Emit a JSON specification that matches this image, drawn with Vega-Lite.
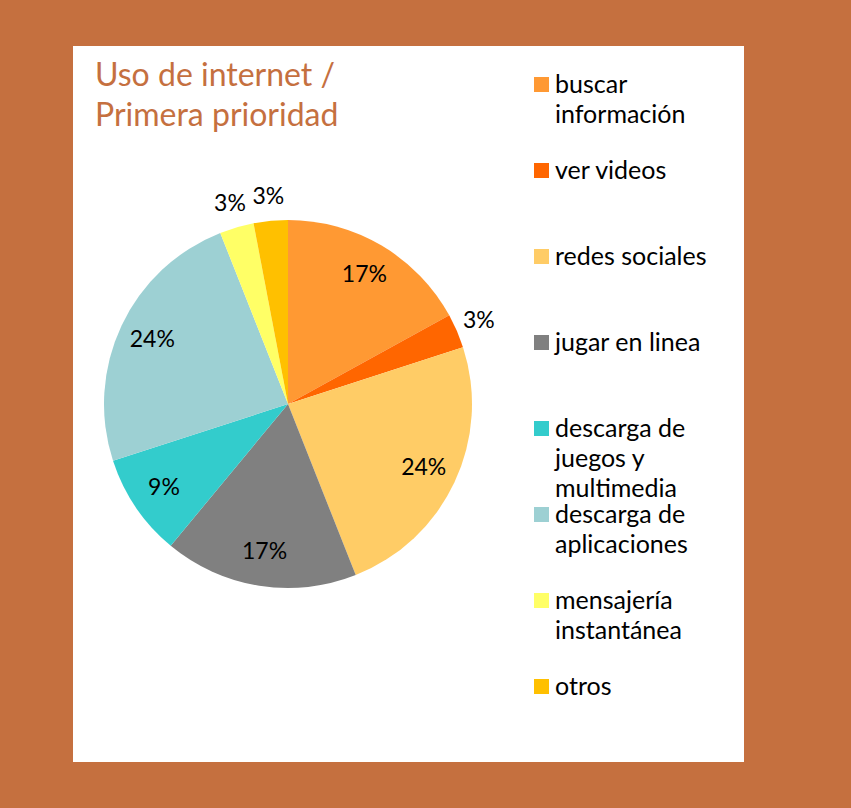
{
  "$schema": "https://vega.github.io/schema/vega-lite/v6.json",
  "background": "#C5703F",
  "padding": {"left": 73, "top": 46, "right": 107, "bottom": 46},
  "config": {
    "style": {"guide-label": {"lineHeight": 30.1}}
  },
  "title": {
    "text": ["Uso de internet /", "Primera prioridad"],
    "anchor": "start",
    "font": "Lato",
    "fontSize": 32,
    "fontWeight": "normal",
    "color": "#C5703F",
    "lineHeight": 40,
    "baseline": "top",
    "offset": 0,
    "dx": 22,
    "dy": 87
  },
  "data": {
    "values": [
      {"orden": 1, "categoria": "buscar información", "valor": 0.17},
      {"orden": 2, "categoria": "ver videos", "valor": 0.03},
      {"orden": 3, "categoria": "redes sociales", "valor": 0.24},
      {"orden": 4, "categoria": "jugar en linea", "valor": 0.17},
      {"orden": 5, "categoria": "descarga de juegos y multimedia", "valor": 0.09},
      {"orden": 6, "categoria": "descarga de aplicaciones", "valor": 0.24},
      {"orden": 7, "categoria": "mensajería instantánea", "valor": 0.03},
      {"orden": 8, "categoria": "otros", "valor": 0.03}
    ]
  },
  "spacing": 0,
  "hconcat": [
    {
      "width": 430,
      "height": 716,
      "view": {"fill": "white", "stroke": null},
      "layer": [
        {
          "mark": {"type": "arc", "outerRadius": 184},
          "encoding": {
            "theta": {"field": "valor", "type": "quantitative", "stack": true},
            "order": {"field": "orden", "type": "quantitative"},
            "color": {
              "field": "categoria",
              "type": "nominal",
              "scale": {
                "domain": ["buscar información", "ver videos", "redes sociales", "jugar en linea", "descarga de juegos y multimedia", "descarga de aplicaciones", "mensajería instantánea", "otros"],
                "range": ["#FF9933", "#FF6600", "#FFCC66", "#808080", "#33CCCC", "#9DD0D3", "#FFFF66", "#FFC000"]
              },
              "legend": {
                "orient": "none",
                "legendX": 456,
                "legendY": 26,
                "title": null,
                "padding": 0,
                "symbolType": "square",
                "symbolSize": 225,
                "symbolStrokeWidth": 0,
                "symbolOpacity": 1,
                "labelFont": "Lato",
                "labelFontSize": 25,
                "labelColor": "#000000",
                "labelOffset": 1,
                "labelLimit": 400,
                "rowPadding": 0,
                "labelExpr": "datum.label == 'buscar información' ? ['buscar', 'información', ''] : datum.label == 'descarga de juegos y multimedia' ? ['descarga de', 'juegos y', 'multimedia'] : datum.label == 'descarga de aplicaciones' ? ['descarga de', 'aplicaciones', ''] : datum.label == 'mensajería instantánea' ? ['mensajería', 'instantánea', ''] : [datum.label, '', '']"
              }
            }
          }
        },
        {
          "mark": {"type": "text", "font": "Lato", "fontSize": 23, "color": "#000000", "radius": 150},
          "encoding": {
            "theta": {"field": "valor", "type": "quantitative", "stack": true},
            "order": {"field": "orden", "type": "quantitative"},
            "text": {"condition": {"test": "datum.valor < 0.05", "value": ""}, "field": "valor", "type": "quantitative", "format": ".0%"}
          }
        },
        {
          "mark": {"type": "text", "font": "Lato", "fontSize": 23, "color": "#000000", "radius": 208},
          "encoding": {
            "theta": {"field": "valor", "type": "quantitative", "stack": true},
            "order": {"field": "orden", "type": "quantitative"},
            "text": {"condition": {"test": "datum.valor >= 0.05", "value": ""}, "field": "valor", "type": "quantitative", "format": ".0%"}
          }
        }
      ]
    },
    {
      "width": 241,
      "height": 716,
      "view": {"fill": "white", "stroke": null},
      "data": {"values": []},
      "mark": "point",
      "encoding": {}
    }
  ]
}
